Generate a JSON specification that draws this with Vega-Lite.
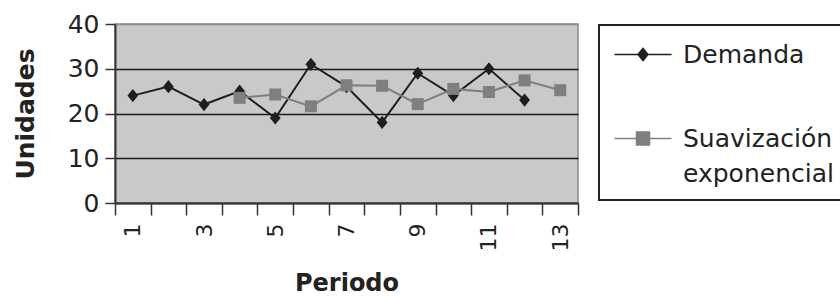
{
  "$schema": "https://vega.github.io/schema/vega-lite/v6.json",
  "width": 463,
  "height": 179,
  "autosize": "none",
  "padding": {"left": 115, "top": 24, "right": 262, "bottom": 94},
  "background": "white",
  "config": {
    "font": "DejaVu Sans",
    "view": {"fill": "#c9c9c9", "stroke": "#8c8c8c", "strokeWidth": 1.5}
  },
  "data": {
    "values": [
      {"periodo": 1, "serie": "Demanda", "unidades": 24},
      {"periodo": 2, "serie": "Demanda", "unidades": 26},
      {"periodo": 3, "serie": "Demanda", "unidades": 22},
      {"periodo": 4, "serie": "Demanda", "unidades": 25},
      {"periodo": 5, "serie": "Demanda", "unidades": 19},
      {"periodo": 6, "serie": "Demanda", "unidades": 31},
      {"periodo": 7, "serie": "Demanda", "unidades": 26},
      {"periodo": 8, "serie": "Demanda", "unidades": 18},
      {"periodo": 9, "serie": "Demanda", "unidades": 29},
      {"periodo": 10, "serie": "Demanda", "unidades": 24},
      {"periodo": 11, "serie": "Demanda", "unidades": 30},
      {"periodo": 12, "serie": "Demanda", "unidades": 23},
      {"periodo": 4, "serie": "Suavización exponencial", "unidades": 23.5},
      {"periodo": 5, "serie": "Suavización exponencial", "unidades": 24.25},
      {"periodo": 6, "serie": "Suavización exponencial", "unidades": 21.6},
      {"periodo": 7, "serie": "Suavización exponencial", "unidades": 26.3},
      {"periodo": 8, "serie": "Suavización exponencial", "unidades": 26.2},
      {"periodo": 9, "serie": "Suavización exponencial", "unidades": 22.1},
      {"periodo": 10, "serie": "Suavización exponencial", "unidades": 25.5},
      {"periodo": 11, "serie": "Suavización exponencial", "unidades": 24.8},
      {"periodo": 12, "serie": "Suavización exponencial", "unidades": 27.4},
      {"periodo": 13, "serie": "Suavización exponencial", "unidades": 25.2}
    ]
  },
  "encoding": {
    "x": {
      "field": "periodo",
      "type": "ordinal",
      "scale": {"type": "band", "domain": [1,2,3,4,5,6,7,8,9,10,11,12,13], "paddingInner": 0, "paddingOuter": 0},
      "axis": {
        "title": "Periodo",
        "titleFontSize": 24,
        "titleFontWeight": "bold",
        "titleColor": "#222",
        "titlePadding": 21,
        "labelAngle": 270,
        "labelAlign": "right",
        "labelBaseline": "middle",
        "labelFontSize": 22,
        "labelColor": "#222",
        "labelPadding": 8,
        "labelExpr": "datum.value % 2 == 1 ? datum.label : ''",
        "tickBand": "extent",
        "tickSize": 12,
        "tickWidth": 1.5,
        "tickColor": "#333",
        "domainColor": "#333",
        "domainWidth": 2,
        "grid": false
      }
    },
    "y": {
      "field": "unidades",
      "type": "quantitative",
      "scale": {"domain": [0, 40], "nice": false},
      "axis": {
        "title": "Unidades",
        "titleFontSize": 25,
        "titleFontWeight": "bold",
        "titleColor": "#222",
        "titlePadding": 29,
        "values": [0, 10, 20, 30, 40],
        "labelFontSize": 25,
        "labelColor": "#222",
        "labelPadding": 6,
        "tickSize": 10,
        "tickWidth": 1.5,
        "tickColor": "#333",
        "domainColor": "#333",
        "domainWidth": 2,
        "grid": true,
        "gridColor": {"condition": {"test": "datum.value == 40", "value": "#8c8c8c"}, "value": "#1a1a1a"},
        "gridWidth": 1.5
      }
    },
    "color": {
      "field": "serie",
      "type": "nominal",
      "scale": {"domain": ["Demanda", "Suavización exponencial"], "range": ["#1e1e1e", "#7f7f7f"]}
    }
  },
  "layer": [
    {
      "mark": {"type": "line", "strokeWidth": 2},
      "encoding": {
        "color": {
          "field": "serie",
          "type": "nominal",
          "scale": {"domain": ["Demanda", "Suavización exponencial"], "range": ["#1e1e1e", "#7f7f7f"]},
          "legend": {
            "orient": "none",
            "legendX": 484,
            "legendY": 1,
            "title": " ",
            "titleFontSize": 2,
            "titlePadding": 2,
            "strokeColor": "#222",
            "padding": 13,
            "labelFontSize": 25,
            "labelColor": "#222",
            "labelLimit": 0,
            "symbolSize": 400,
            "labelOffset": 46,
            "rowPadding": 58,
            "labelExpr": "datum.label == 'Suavización exponencial' ? ['Suavización', 'exponencial'] : datum.label",
            "encode": {
              "legend": {"update": {"strokeWidth": {"value": 2}}},
              "labels": {"update": {"lineHeight": {"value": 35}}},
              "symbols": {
                "update": {
                  "shape": {"signal": "datum.value == 'Demanda' ? 'M-1,0H4.7M1.35,0L1.85,-0.6L2.35,0L1.85,0.6Z' : 'M-1,0H4.7M1.2,-0.65H2.5V0.65H1.2Z'"},
                  "fill": {"signal": "datum.value == 'Demanda' ? '#1e1e1e' : '#7f7f7f'"},
                  "stroke": {"signal": "datum.value == 'Demanda' ? '#1e1e1e' : '#7f7f7f'"},
                  "strokeWidth": {"value": 1.5},
                  "opacity": {"value": 1}
                }
              }
            }
          }
        }
      }
    },
    {
      "transform": [{"filter": "datum.serie == 'Demanda'"}],
      "mark": {"type": "point", "filled": true, "opacity": 1, "size": 144, "shape": "M0,-1.1L0.9,0L0,1.1L-0.9,0Z"}
    },
    {
      "transform": [{"filter": "datum.serie != 'Demanda'"}],
      "mark": {"type": "point", "filled": true, "opacity": 1, "size": 144, "shape": "M-1,-1H1V1H-1Z"}
    }
  ]
}
